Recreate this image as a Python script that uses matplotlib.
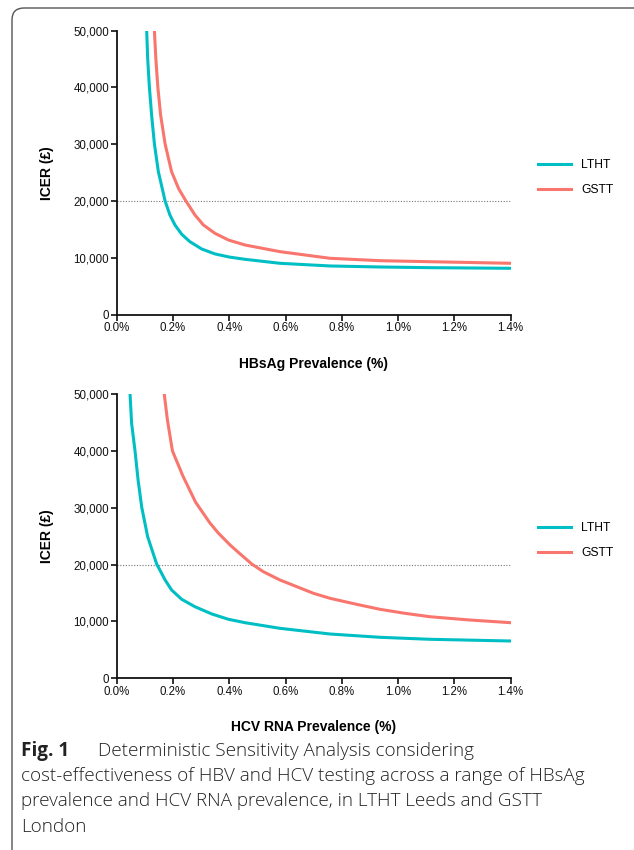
import matplotlib
matplotlib.use("Agg")
import matplotlib.pyplot as plt
import matplotlib.ticker as ticker
from matplotlib.patches import FancyBboxPatch

# --- data (prevalence in %, ICER in GBP) ---
hbv_lth_x = [0.1066, 0.110, 0.116, 0.124, 0.134, 0.148, 0.172, 0.189, 0.207, 0.231, 0.260,
             0.302, 0.349, 0.400, 0.456, 0.580, 0.758, 0.936, 1.113, 1.4]
hbv_lth_y = [50000, 45150, 40150, 35170, 30060, 25180, 20020, 17560, 15800, 14160, 12860,
             11570, 10700, 10150, 9750, 9050, 8580, 8400, 8280, 8170]
hbv_gst_x = [0.134, 0.139, 0.146, 0.156, 0.172, 0.195, 0.220, 0.246, 0.278, 0.308, 0.349,
             0.397, 0.456, 0.580, 0.758, 0.936, 1.113, 1.4]
hbv_gst_y = [50000, 45150, 40150, 35170, 30060, 25180, 22200, 20020, 17560, 15800, 14330,
             13150, 12270, 11100, 9930, 9510, 9330, 9050]

hcv_lth_x = [0.0474, 0.053, 0.065, 0.076, 0.089, 0.110, 0.142, 0.172, 0.195, 0.231, 0.278,
             0.338, 0.397, 0.456, 0.580, 0.758, 0.936, 1.113, 1.4]
hcv_lth_y = [50000, 44850, 40030, 34870, 30070, 24900, 20100, 17290, 15530, 13890, 12590,
             11310, 10380, 9780, 8790, 7790, 7210, 6860, 6560]
hcv_gst_x = [0.169, 0.180, 0.198, 0.235, 0.280, 0.330, 0.360, 0.403, 0.438, 0.480,
             0.521, 0.580, 0.640, 0.699, 0.758, 0.847, 0.936, 1.024, 1.113, 1.255, 1.4]
hcv_gst_y = [50000, 45500, 40000, 35600, 31000, 27400, 25600, 23440, 21900, 20100,
             18750, 17290, 16110, 14950, 14070, 13070, 12130, 11430, 10830, 10250, 9780]

series_names = ["LTHT", "GSTT"]
x_labels = ["HBsAg Prevalence (%)", "HCV RNA Prevalence (%)"]
threshold = 20000

TEAL = "#00BFC4"
SALMON = "#F8766D"
W, H = 634, 850

plt.rcParams["font.family"] = ["Liberation Sans", "DejaVu Sans"]

fig = plt.figure(figsize=(W / 100, H / 100), dpi=100)

panels = [
    (hbv_lth_x, hbv_lth_y, hbv_gst_x, hbv_gst_y, 30.7, 314.7, 176.3),
    (hcv_lth_x, hcv_lth_y, hcv_gst_x, hcv_gst_y, 394.0, 678.3, 539.0),
]

for i, (lx, ly, gx, gy, top_px, bot_px, leg_y) in enumerate(panels):
    left, right = 116.7 / W, 510.7 / W
    ax = fig.add_axes([left, 1 - bot_px / H, right - left, (bot_px - top_px) / H])
    ax.plot(lx, ly, color=TEAL, lw=2.2, label=series_names[0], solid_joinstyle="round")
    ax.plot(gx, gy, color=SALMON, lw=2.2, label=series_names[1], solid_joinstyle="round")
    ax.axhline(threshold, color="#777777", lw=0.8, ls=(0, (1, 1.5)), zorder=0)

    ax.set_xlim(0, 1.4)
    ax.set_ylim(0, 50000)
    ax.xaxis.set_major_locator(ticker.MultipleLocator(0.2))
    ax.yaxis.set_major_locator(ticker.MultipleLocator(10000))
    ax.xaxis.set_major_formatter(ticker.FuncFormatter(lambda v, p: f"{v:.1f}%"))
    ax.yaxis.set_major_formatter(ticker.FuncFormatter(lambda v, p: f"{int(v):,}"))
    for s in ["top", "right"]:
        ax.spines[s].set_visible(False)
    for s in ["left", "bottom"]:
        ax.spines[s].set_linewidth(1.3)
        ax.spines[s].set_color("#111111")
    ax.tick_params(axis="both", direction="out", length=4, width=1.2, labelsize=8.3,
                   colors="#111111", pad=1.5)
    ax.set_ylabel("ICER (£)", fontsize=10, fontweight="bold", labelpad=14)
    ax.set_xlabel(x_labels[i], fontsize=10, fontweight="bold", labelpad=16)

    ax.legend(loc="center left", bbox_to_anchor=(538 / W, 1 - (leg_y + 1.5) / H),
              bbox_transform=fig.transFigure, frameon=False, fontsize=8.7,
              handlelength=2.7, handletextpad=0.85, labelspacing=1.1,
              borderpad=0, borderaxespad=0)

# rounded border around the figure panel
border = FancyBboxPatch((12, -40), 660, 40 + H - 8, boxstyle="round,pad=0,rounding_size=12",
                        transform=None, fill=False, edgecolor="#555555", lw=1.0)
fig.patches.append(border)

# caption
cap_font = ["Open Sans", "DejaVu Sans"]
cap_size = 13.6
fig.text(21 / W, 1 - 751 / H, "Fig. 1", fontsize=cap_size, fontweight="bold",
         family=cap_font, va="center", ha="left", color="#222222")
fig.text(98 / W, 1 - 751 / H, "Deterministic Sensitivity Analysis considering",
         fontsize=cap_size, fontweight="light", family=cap_font, va="center", ha="left",
         color="#222222")
rest = ["cost-effectiveness of HBV and HCV testing across a range of HBsAg",
        "prevalence and HCV RNA prevalence, in LTHT Leeds and GSTT",
        "London"]
for k, line in enumerate(rest):
    fig.text(21 / W, 1 - (776 + 25.5 * k) / H, line, fontsize=cap_size, fontweight="light",
             family=cap_font, va="center", ha="left", color="#222222")

fig.savefig("out.png", dpi=100)
